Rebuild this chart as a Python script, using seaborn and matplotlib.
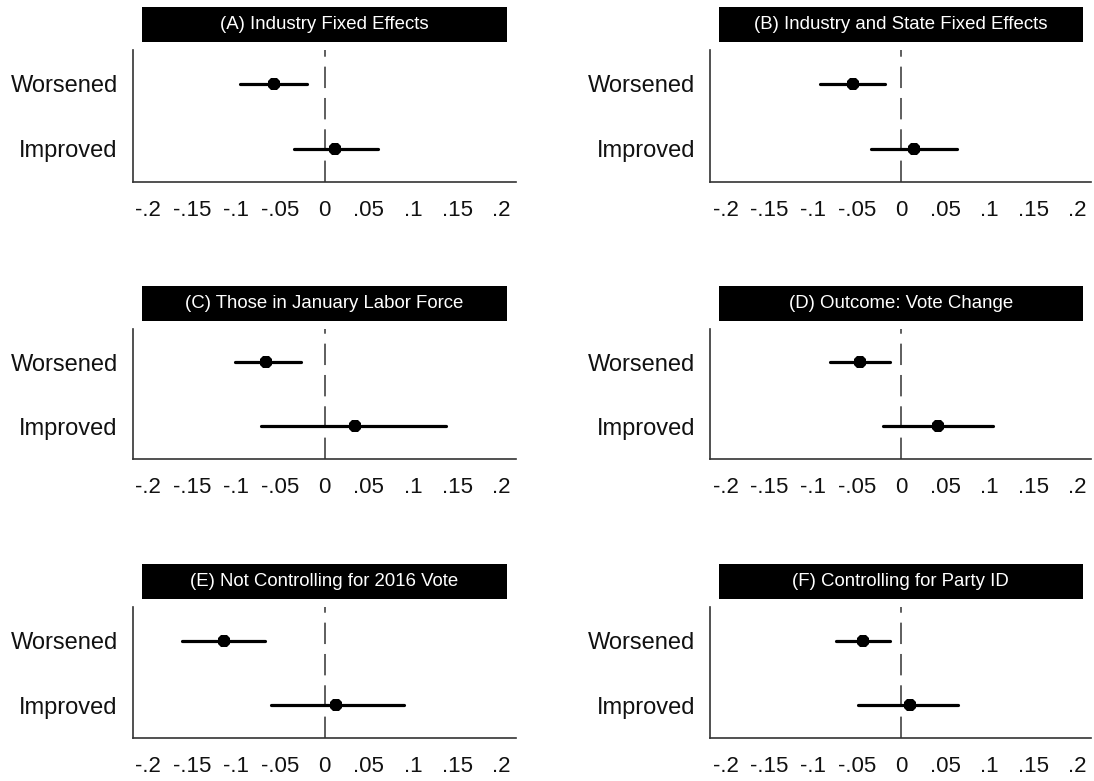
import numpy as np
import pandas as pd
import seaborn as sns
import matplotlib
matplotlib.use("Agg")
import matplotlib.pyplot as plt
from matplotlib.patches import Rectangle

# ---- data ----
categories = ["Worsened", "Improved"]
panel_titles = [
    "(A) Industry Fixed Effects",
    "(B) Industry and State Fixed Effects",
    "(C) Those in January Labor Force",
    "(D) Outcome: Vote Change",
    "(E) Not Controlling for 2016 Vote",
    "(F) Controlling for Party ID",
]
est_worsened = [-0.057, -0.055, -0.066, -0.047, -0.114, -0.044]
lo_worsened = [-0.096, -0.092, -0.101, -0.081, -0.161, -0.074]
hi_worsened = [-0.020, -0.018, -0.027, -0.013, -0.068, -0.013]
est_improved = [0.012, 0.015, 0.034, 0.042, 0.013, 0.010]
lo_improved = [-0.035, -0.034, -0.072, -0.021, -0.061, -0.049]
hi_improved = [0.060, 0.063, 0.137, 0.105, 0.090, 0.065]
tick_values = [-0.2, -0.15, -0.1, -0.05, 0, 0.05, 0.1, 0.15, 0.2]
tick_labels = ["-.2", "-.15", "-.1", "-.05", "0", ".05", ".1", ".15", ".2"]

sns.set_style("white")
plt.rcParams["font.family"] = ["Liberation Sans", "DejaVu Sans"]

W, H = 1094, 781
fig = plt.figure(figsize=(W / 100, H / 100), dpi=100)

# axes pixel boxes (left, right) and (top, bottom)
cols = [(133, 515.5), (710.5, 1091)]
rows = [(50, 182), (329, 459), (607, 738)]

for i, title in enumerate(panel_titles):
    r, c = divmod(i, 2)
    xl, xr = cols[c]
    yt, yb = rows[r]
    ax = fig.add_axes([xl / W, 1 - yb / H, (xr - xl) / W, (yb - yt) / H])

    df = pd.DataFrame({
        "cat": [categories[0]] * 3 + [categories[1]] * 3,
        "val": [lo_worsened[i], est_worsened[i], hi_worsened[i],
                lo_improved[i], est_improved[i], hi_improved[i]],
    })
    ax.axvline(0, color="#333333", linewidth=1.1, dashes=(14, 6.5), zorder=1)
    sns.pointplot(data=df, x="val", y="cat", order=categories, orient="h",
                  estimator="median", errorbar=lambda v: (v.min(), v.max()),
                  color="black", linestyle="none", marker="8",
                  markersize=10, markeredgewidth=0,
                  err_kws={"linewidth": 2.3, "color": "black"}, ax=ax, zorder=3)

    ax.set_xlim(-0.217, 0.216)
    ax.set_ylim(1.51, -0.52)
    ax.set_xticks(tick_values)
    ax.set_xticklabels(tick_labels)
    ax.set_xlabel("")
    ax.set_ylabel("")
    ax.tick_params(axis="x", length=0, pad=13, labelsize=16, colors="#111111")
    ax.tick_params(axis="y", length=0, pad=11, labelsize=17, colors="#111111")
    for s in ["top", "right"]:
        ax.spines[s].set_visible(False)
    for s in ["left", "bottom"]:
        ax.spines[s].set_color("#333333")
        ax.spines[s].set_linewidth(1.2)

    # title bar
    bx0 = (xl + 8.5) / W
    bw = (xr - xl - 17) / W
    by0 = 1 - (yt - 8) / H
    bh = 35 / H
    fig.add_artist(Rectangle((bx0, by0), bw, bh, transform=fig.transFigure,
                             facecolor="black", edgecolor="none"))
    fig.text(bx0 + bw / 2, by0 + bh / 2, title, color="white", fontsize=13.4,
             ha="center", va="center")

fig.savefig("out.png", dpi=100)
